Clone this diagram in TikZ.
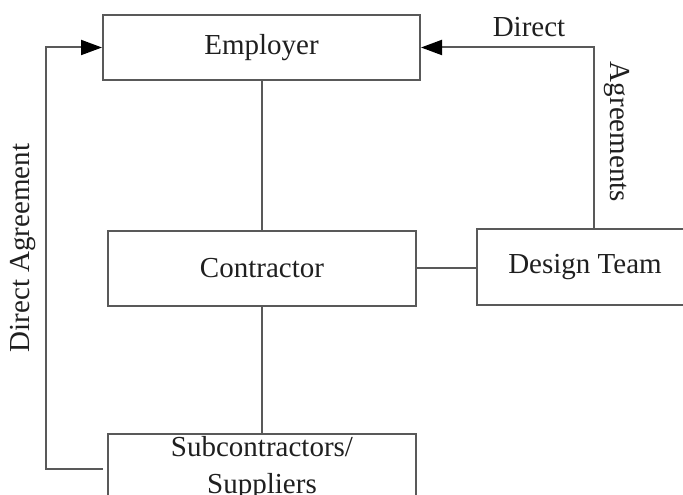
\documentclass[tikz,border=0pt]{standalone}
\usepackage{fontspec}
\setmainfont{Liberation Serif}
\usetikzlibrary{arrows.meta}
\definecolor{linegray}{gray}{0.35}
\definecolor{txt}{gray}{0.12}
\begin{document}
\begin{tikzpicture}[x=1pt,y=1pt,
  box/.style={draw=linegray,line width=2pt,rectangle,inner sep=0pt,text=txt,
    font=\fontsize{29}{37}\selectfont},
  conn/.style={draw=linegray,line width=2pt},
  arr/.style={conn,-{Triangle[length=21pt,width=15pt,color=black]}},
  lbl/.style={text=txt,font=\fontsize{29}{37}\selectfont,inner sep=0pt}]
\useasboundingbox (0,0) rectangle (683,495);
\node[box,minimum width=317,minimum height=65] (emp) at (261.5,447.5) {Employer};
\node[box,minimum width=308,minimum height=75] (con) at (262,226.5) {Contractor};
\node[box,minimum width=216,minimum height=76] (dt) at (585,228) {Design Team};
\node[box,minimum width=308,minimum height=110,anchor=north,align=center,inner ysep=2pt,text depth=75pt] (sub) at (262,62) {Subcontractors/\\Suppliers};
\coordinate (la) at (46,26);
\coordinate (lb) at (46,447.5);
\coordinate (ra) at (594,447.5);
\draw[conn] (con.north |- emp.south) -- (con.north);
\draw[conn] (con.south) -- (sub.north);
\draw[conn] (con.east) -- (con.east -| dt.west);
\draw[arr] ([xshift=-4pt]sub.west |- la) -- (la) -- (lb) -- (emp.west);
\draw[arr] (ra |- dt.north) -- (ra) -- (emp.east);
\node[lbl] (d1) at (529,468) {Direct};
\node[lbl,rotate=-90] (d2) at (617,363) {Agreements};
\node[lbl,rotate=90] (d3) at (23,247) {Direct Agreement};
\end{tikzpicture}
\end{document}
